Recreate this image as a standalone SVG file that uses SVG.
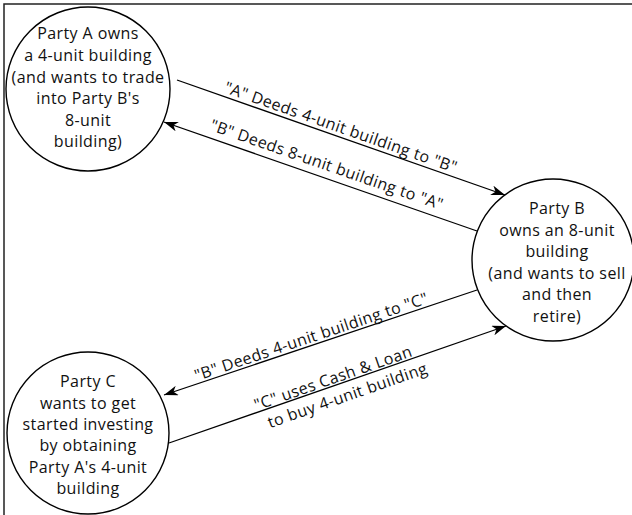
<svg xmlns="http://www.w3.org/2000/svg" width="632" height="515" viewBox="0 0 632 515">
<style>
.frame{fill:#fff;stroke:#222;stroke-width:1.5}
.node{fill:#fff;stroke:#000;stroke-width:1.4}
.t{font-family:"Open Sans","Noto Sans",sans-serif;font-size:16px;fill:#111;text-anchor:middle;letter-spacing:0.4px}
.edge{stroke:#000;stroke-width:1.3;fill:none;marker-end:url(#arr)}
</style>
<defs>
<marker id="arr" markerUnits="userSpaceOnUse" markerWidth="14" markerHeight="10" refX="14" refY="5" orient="auto">
<path d="M0,0 L14,5 L0,10 L4,5 z" fill="#000"/>
</marker>
</defs>
<rect class="frame" x="4" y="4" width="700" height="600"/>
<g id="connectors">
<line class="edge" x1="177" y1="80" x2="505" y2="195"/>
<line class="edge" x1="477" y1="231" x2="164" y2="122"/>
<line class="edge" x1="477" y1="290" x2="164" y2="395"/>
<line class="edge" x1="169" y1="443" x2="506" y2="326"/>
<text class="t" transform="translate(339,132.5) rotate(19.3)">"A" Deeds 4-unit building to "B"</text>
<text class="t" transform="translate(325,170) rotate(19.1)">"B" Deeds 8-unit building to "A"</text>
<text class="t" transform="translate(313,342) rotate(-18.6)">"B" Deeds 4-unit building to "C"</text>
<text class="t" transform="translate(333,384) rotate(-19.2)"><tspan x="2" y="0">"C" uses Cash &amp; Loan</tspan><tspan x="10" y="21">to buy 4-unit building</tspan></text>
</g>
<g id="partyA">
<circle class="node" cx="88" cy="89" r="82"/>
<text class="t"><tspan x="88" y="39">Party A owns</tspan><tspan x="88" y="61">a 4-unit building</tspan><tspan x="88" y="82.5">(and wants to trade</tspan><tspan x="88" y="104">into Party B's</tspan><tspan x="88" y="125.5">8-unit</tspan><tspan x="88" y="147">building)</tspan></text>
</g>
<g id="partyB">
<circle class="node" cx="553" cy="260" r="81"/>
<text class="t"><tspan x="557" y="214">Party B</tspan><tspan x="557" y="235.5">owns an 8-unit</tspan><tspan x="557" y="257">building</tspan><tspan x="557" y="278.5">(and wants to sell</tspan><tspan x="557" y="300">and then</tspan><tspan x="557" y="321.5">retire)</tspan></text>
</g>
<g id="partyC">
<circle class="node" cx="88" cy="433" r="81"/>
<text class="t"><tspan x="88" y="387">Party C</tspan><tspan x="88" y="408.5">wants to get</tspan><tspan x="88" y="429.5">started investing</tspan><tspan x="88" y="451">by obtaining</tspan><tspan x="88" y="472.5">Party A's 4-unit</tspan><tspan x="88" y="493.5">building</tspan></text>
</g>
</svg>
